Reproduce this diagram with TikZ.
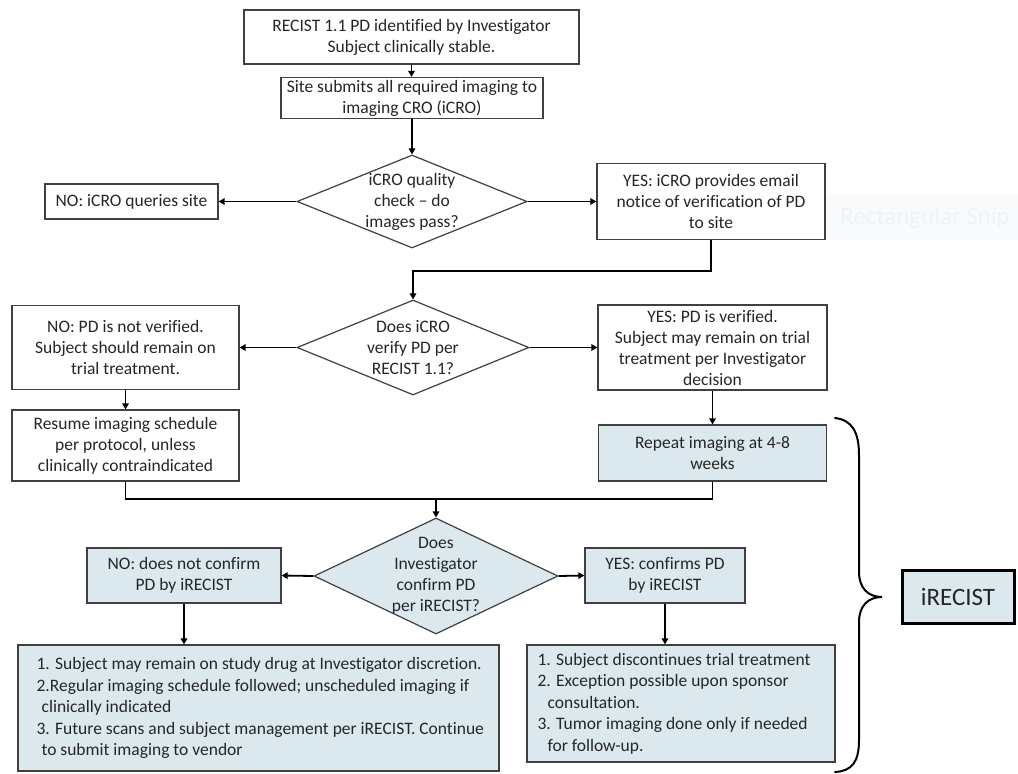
\documentclass[tikz,border=0pt]{standalone}
\usepackage{fontspec}
\setmainfont{Carlito}[Ligatures={NoCommon}]
\usetikzlibrary{arrows.meta,shapes.geometric,calc}
\definecolor{lightblue}{HTML}{DBE9EF}
\definecolor{bordergray}{HTML}{404040}
\definecolor{textgray}{HTML}{262626}
\definecolor{snipbg}{HTML}{F9FAFC}
\definecolor{sniptext}{HTML}{F0F2F6}
\begin{document}
\begin{tikzpicture}[x=1pt,y=-1pt,
  box/.style={draw=bordergray, line width=1.2pt, fill=white, align=center, inner sep=0pt,
    text=textgray, font=\fontsize{17.5}{21}\selectfont},
  bluebox/.style={box, fill=lightblue},
  dia/.style={shape=diamond, draw=bordergray, line width=1.2pt, fill=white, inner sep=0pt},
  bluedia/.style={dia, fill=lightblue},
  dtext/.style={align=center, inner sep=0pt, text=textgray, font=\fontsize{17.5}{21}\selectfont},
  ltext/.style={align=left, inner sep=0pt, text=textgray, font=\fontsize{17.5}{21.5}\selectfont, anchor=west},
  line/.style={draw=black, line width=1.8pt},
  conn/.style={line, -{Triangle[length=6pt,width=6.5pt]}}]
\useasboundingbox (0,0) rectangle (1018,774);
\fill[white] (0,0) rectangle (1018,774);

% faint screenshot artefact
\fill[snipbg] (777,195) rectangle (1018,240);
\node[text=sniptext, font=\fontsize{25}{28}\selectfont, inner sep=0pt] (snip) at (925,218) {Rectangular Snip};

% top
\node[box, minimum width=335pt, minimum height=54pt] (b1) at (411.5,37) {RECIST 1.1 PD identified by Investigator\\Subject clinically stable.};
\node[box, minimum width=262pt, minimum height=41pt] (b2) at (412,98) {Site submits all required imaging to\\imaging CRO (iCRO)};

% decision 1
\node[dia, minimum width=230pt, minimum height=93pt] (d1) at (412,201.5) {};
\node[dtext] (d1t) at (d1) {iCRO quality\\check -- do\\images pass?};
\node[box, minimum width=173pt, minimum height=35pt] (no1) at (131.5,201.5) {NO: iCRO queries site};
\node[box, minimum width=228pt, minimum height=76pt] (yes1) at (711,201.5) {YES: iCRO provides email\\notice of verification of PD\\to site};

% decision 2
\node[dia, minimum width=232pt, minimum height=95pt] (d2) at (413,347.5) {};
\node[dtext] (d2t) at (d2) {Does iCRO\\verify PD per\\RECIST 1.1?};
\node[box, minimum width=227pt, minimum height=84pt] (no2) at (125.5,347.5) {NO: PD is not verified.\\Subject should remain on\\trial treatment.};
\node[box, minimum width=229pt, minimum height=85pt] (yes2) at (712.5,347.5) {YES: PD is verified.\\Subject may remain on trial\\treatment per Investigator\\decision};
\node[box, minimum width=227pt, minimum height=71pt] (resume) at (125.5,445.5) {Resume imaging schedule\\per protocol, unless\\clinically contraindicated};
\node[bluebox, minimum width=228pt, minimum height=56pt] (repeat) at (712.5,453) {Repeat imaging at 4-8\\weeks};

% decision 3
\coordinate (m) at (436,499);
\node[bluedia, minimum width=244pt, minimum height=116pt] (d3) at (436,576) {};
\node[dtext] (d3t) at (d3) {Does\\Investigator\\confirm PD\\per iRECIST?};
\node[bluebox, minimum width=194pt, minimum height=55pt] (no3) at (184,575.5) {NO: does not confirm\\PD by iRECIST};
\node[bluebox, minimum width=160pt, minimum height=55pt] (yes3) at (665,575.5) {YES: confirms PD\\by iRECIST};

% bottom boxes
\node[bluebox, minimum width=481pt, minimum height=126pt] (bl) at (258.5,708) {};
\node[ltext] (blt) at ([xshift=19pt]bl.west) {1. Subject may remain on study drug at Investigator discretion.\\
2.Regular imaging schedule followed; unscheduled imaging if\\
\hspace*{5pt}clinically indicated\\
3. Future scans and subject management per iRECIST. Continue\\
\hspace*{5pt}to submit imaging to vendor};
\node[bluebox, minimum width=308pt, minimum height=117pt] (br) at (681,703.5) {};
\node[ltext] (brt) at ([xshift=11pt]br.west) {1. Subject discontinues trial treatment\\
2. Exception possible upon sponsor\\
\hspace*{10pt}consultation.\\
3. Tumor imaging done only if needed\\
\hspace*{10pt}for follow-up.};

% iRECIST label
\node[bluebox, line width=3pt, draw=black, minimum width=112pt, minimum height=53pt,
  font=\fontsize{25}{28}\selectfont] (ir) at (958,597) {iRECIST};

% connectors
\draw[conn] (b1.south) -- (b1.south |- b2.north);
\draw[conn] (b2.south) -- (b2.south |- d1.north);
\draw[conn] (d1.west) -- (no1.east);
\draw[conn] (d1.east) -- (yes1.west);
\draw[conn] (yes1.south) -- ++(0,31) -| (d2.north);
\draw[conn] (d2.west) -- (no2.east);
\draw[conn] (d2.east) -- (yes2.west);
\draw[conn] (no2.south) -- (resume.north);
\draw[conn] (yes2.south) -- (repeat.north);
\draw[line] (resume.south) |- (m);
\draw[line] (repeat.south) |- (m);
\draw[conn] (m) -- (d3.north);
\draw[conn] (d3.west) -- (no3.east);
\draw[conn] (d3.east) -- (yes3.west);
\draw[conn] (no3.south) -- (no3.south |- bl.north);
\draw[conn] (yes3.south) -- (yes3.south |- br.north);

% brace
\draw[line width=2pt, line cap=round] (835,418) .. controls (852,420) and (859,432) .. (859,455)
  -- (859,572) .. controls (859,588) and (868,597) .. (882,597)
  .. controls (868,597) and (859,606) .. (859,622)
  -- (859,740) .. controls (859,762) and (852,771) .. (835,772);
\end{tikzpicture}
\end{document}
